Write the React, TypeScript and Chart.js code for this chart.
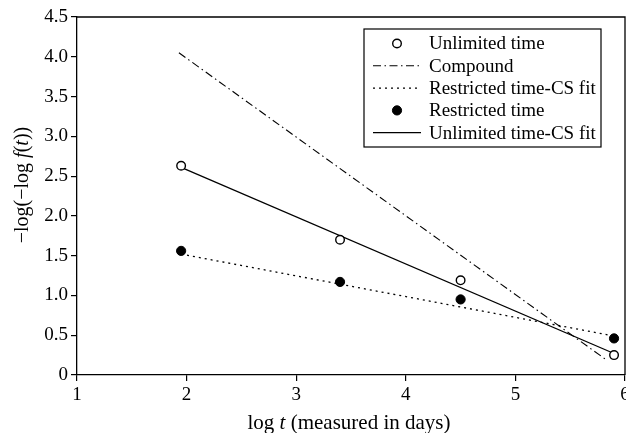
import React, { useEffect, useRef } from "react";
import { Chart, registerables } from "chart.js";

Chart.register(...registerables);

const xValues = [1.95, 3.4, 4.5, 5.9];
const unlimitedTime = [2.63, 1.7, 1.19, 0.25];
const restrictedTime = [1.56, 1.17, 0.95, 0.46];
const fitX = [1.95, 5.9];
const unlimitedFit = [2.61, 0.27];
const restrictedFit = [1.52, 0.49];
const compoundX = [1.93, 5.84];
const compound = [4.05, 0.18];

const legendLabels = [
  "Unlimited time",
  "Compound",
  "Restricted time-CS fit",
  "Restricted time",
  "Unlimited time-CS fit",
];
const xTitle = [
  { t: "log ", i: false },
  { t: "t", i: true },
  { t: " (measured in days)", i: false },
];
const yTitle = [
  { t: "\u2212log(\u2212log ", i: false },
  { t: "f", i: true },
  { t: "(", i: false },
  { t: "t", i: true },
  { t: "))", i: false },
];

const FONT = "'Liberation Serif', 'DejaVu Serif', serif";

const pts = (xs: number[], ys: number[]) => xs.map((x, k) => ({ x, y: ys[k] }));

function drawRich(ctx: CanvasRenderingContext2D, parts: { t: string; i: boolean }[], size: number) {
  const fontOf = (p: { i: boolean }) => `${p.i ? "italic " : ""}${size}px ${FONT}`;
  let total = 0;
  for (const p of parts) {
    ctx.font = fontOf(p);
    total += ctx.measureText(p.t).width;
  }
  let x = -total / 2;
  for (const p of parts) {
    ctx.font = fontOf(p);
    ctx.fillText(p.t, x, 0);
    x += ctx.measureText(p.t).width;
  }
}

const framePlugin = {
  id: "frameAndTitles",
  afterDraw(chart: any) {
    const { ctx, chartArea } = chart;
    const { left, right, top, bottom } = chartArea;
    ctx.save();
    ctx.strokeStyle = "#000";
    ctx.lineWidth = 1.3;
    ctx.beginPath();
    ctx.moveTo(left, top);
    ctx.lineTo(right, top);
    ctx.lineTo(right, bottom);
    ctx.stroke();

    ctx.fillStyle = "#000";
    ctx.textBaseline = "alphabetic";
    ctx.textAlign = "left";
    // x title
    ctx.save();
    ctx.translate((left + right) / 2 - 2, bottom + 54);
    drawRich(ctx, xTitle, 21);
    ctx.restore();
    // y title
    ctx.save();
    ctx.translate(28, (top + bottom) / 2 - 11);
    ctx.rotate(-Math.PI / 2);
    drawRich(ctx, yTitle, 20);
    ctx.restore();

    // legend
    const lx = chartArea.right - 261;
    const ly = chartArea.top + 12;
    const lw = 237;
    const rowH = 22.3;
    const lh = 118;
    ctx.fillStyle = "#fff";
    ctx.fillRect(lx, ly, lw, lh);
    ctx.lineWidth = 1.2;
    ctx.strokeStyle = "#000";
    ctx.strokeRect(lx, ly, lw, lh);
    const ds = chart.data.datasets;
    ds.forEach((d: any, k: number) => {
      const cy = ly + 14.5 + k * rowH;
      ctx.save();
      if (d.showLine === false) {
        ctx.beginPath();
        ctx.arc(lx + 33, cy, d.pointRadius, 0, Math.PI * 2);
        ctx.fillStyle = d.pointBackgroundColor;
        ctx.fill();
        ctx.lineWidth = d.pointBorderWidth;
        ctx.strokeStyle = "#000";
        ctx.stroke();
      } else {
        ctx.beginPath();
        ctx.setLineDash(d.borderDash || []);
        ctx.lineWidth = d.borderWidth;
        ctx.strokeStyle = "#000";
        ctx.moveTo(lx + 9, cy);
        ctx.lineTo(lx + 57, cy);
        ctx.stroke();
      }
      ctx.restore();
      ctx.fillStyle = "#000";
      ctx.font = `19px ${FONT}`;
      ctx.textBaseline = "middle";
      ctx.textAlign = "left";
      ctx.fillText(d.label, lx + 65, cy + 1);
    });
    ctx.restore();
  },
};

export default function App() {
  const ref = useRef<HTMLCanvasElement | null>(null);
  useEffect(() => {
    document.body.style.margin = "0";
    document.body.style.overflow = "hidden";
    const canvas = ref.current!;
    const chart = new Chart(canvas, {
      type: "scatter",
      data: {
        datasets: [
          {
            label: legendLabels[0],
            data: pts(xValues, unlimitedTime),
            showLine: false,
            pointRadius: 4.3,
            pointBorderWidth: 1.4,
            pointBackgroundColor: "#fff",
            pointBorderColor: "#000",
          },
          {
            label: legendLabels[1],
            data: pts(compoundX, compound),
            showLine: true,
            borderColor: "#000",
            borderWidth: 1.1,
            borderDash: [8, 3.5, 1.5, 3.5],
            pointRadius: 0,
          },
          {
            label: legendLabels[2],
            data: pts(fitX, restrictedFit),
            showLine: true,
            borderColor: "#000",
            borderWidth: 1.3,
            borderDash: [2, 4],
            pointRadius: 0,
          },
          {
            label: legendLabels[3],
            data: pts(xValues, restrictedTime),
            showLine: false,
            pointRadius: 4.6,
            pointBorderWidth: 1,
            pointBackgroundColor: "#000",
            pointBorderColor: "#000",
          },
          {
            label: legendLabels[4],
            data: pts(fitX, unlimitedFit),
            showLine: true,
            borderColor: "#000",
            borderWidth: 1.3,
            pointRadius: 0,
          },
        ] as any,
      },
      options: {
        animation: false,
        responsive: false,
        maintainAspectRatio: false,
        layout: { padding: { top: 17, right: 15, left: 0, bottom: 0 } },
        plugins: { legend: { display: false }, tooltip: { enabled: false } },
        scales: {
          x: {
            type: "linear",
            min: 1,
            max: 6,
            afterFit: (s: any) => {
              s.height = 58;
            },
            ticks: {
              stepSize: 1,
              color: "#000",
              padding: 3,
              font: { family: FONT, size: 19 },
              callback: (v: any) => String(v),
            },
            grid: { drawOnChartArea: false, drawTicks: true, tickLength: 6, color: "#000", lineWidth: 1.2 },
            border: { display: true, color: "#000", width: 1.3 },
          },
          y: {
            type: "linear",
            min: 0,
            max: 4.5,
            afterFit: (s: any) => {
              s.width = 77;
            },
            ticks: {
              stepSize: 0.5,
              color: "#000",
              padding: 3,
              font: { family: FONT, size: 19 },
              callback: (v: any) => (v === 0 ? "0" : Number(v).toFixed(1)),
            },
            grid: { drawOnChartArea: false, drawTicks: true, tickLength: 6, color: "#000", lineWidth: 1.2 },
            border: { display: true, color: "#000", width: 1.3 },
          },
        },
      },
      plugins: [framePlugin],
    });
    return () => chart.destroy();
  }, []);
  return (
    <div style={{ width: 626, height: 433, overflow: "hidden", position: "relative" }}>
      <canvas ref={ref} width={640} height={433} style={{ display: "block", width: 640, height: 433 }} />
    </div>
  );
}
